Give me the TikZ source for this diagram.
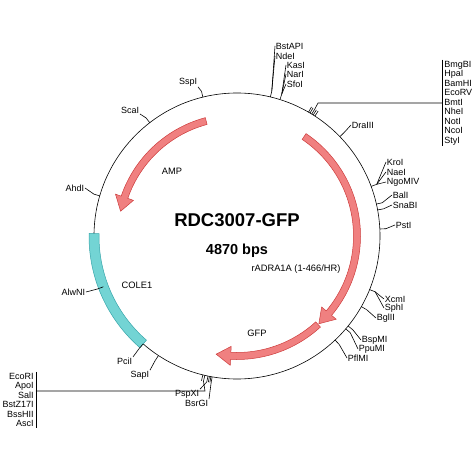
\documentclass[tikz,border=0pt]{standalone}
\usepackage{fontspec}
\setmainfont{Liberation Sans}
\definecolor{featred}{RGB}{240,128,128}
\definecolor{featedge}{RGB}{205,60,60}
\definecolor{orifill}{RGB}{115,212,212}
\definecolor{oriedge}{RGB}{55,165,170}
\begin{document}
\begin{tikzpicture}[x=1pt,y=1pt,line width=0.6pt,
    site/.style={font=\fontsize{9}{9.5}\selectfont,inner sep=0.5pt},
    siteR/.style={site,anchor=west},
    siteL/.style={site,anchor=east},
    grpR/.style={site,anchor=west,align=left,inner xsep=2pt,inner ysep=1pt},
    grpL/.style={site,anchor=east,align=right,inner xsep=2pt,inner ysep=1pt},
    featlbl/.style={font=\fontsize{9.3}{10}\selectfont,inner sep=0.5pt},
    feat/.style={fill=featred,draw=featedge,line width=0.5pt},
    ori/.style={fill=orifill,draw=oriedge,line width=0.5pt}]
  \useasboundingbox (-237,-238) rectangle (237,236);

  \draw (0,0) circle[radius=143];

  % features
  \filldraw[ori] (179:148) arc[start angle=179,end angle=229,radius=148]
    -- (229:138) arc[start angle=229,end angle=179,radius=138] -- cycle;
  \filldraw[feat] (105:122.5) arc[start angle=105,end angle=161,radius=122.5]
    -- (161:128.5) -- (168:119) -- (161:109.5) -- (161:115.5)
    arc[start angle=161,end angle=105,radius=115.5] -- cycle;
  \filldraw[feat] (56:123.5) arc[start angle=56,end angle=-40,radius=123.5]
    -- (-40:129.5) -- (-47:120) -- (-40:110.5) -- (-40:116.5)
    arc[start angle=-40,end angle=56,radius=116.5] -- cycle;
  \filldraw[feat] (-47.5:123.5) arc[start angle=-47.5,end angle=-93,radius=123.5]
    -- (-93:129.5) -- (-100:120) -- (-93:110.5) -- (-93:116.5)
    arc[start angle=-93,end angle=-47.5,radius=116.5] -- cycle;

  \node[font=\bfseries\fontsize{18.5}{20}\selectfont] (title) at (0,16) {RDC3007-GFP};
  \node[font=\bfseries\fontsize{14.5}{16}\selectfont] (size) at (0,-15) {4870 bps};
  \node[featlbl] (amp) at (-65,65) {AMP};
  \node[featlbl] (adra) at (59,-33) {rADRA1A (1-466/HR)};
  \node[featlbl] (gfp) at (20,-97) {GFP};
  \node[featlbl] (cole) at (-100,-49) {COLE1};

  % sites
  \foreach \n/\a in {SspI/103.8,ScaI/127.6,AhdI/163.7,AlwNI/200.8,PciI/229,
      SapI/236.7,PspXI/258.3,BsrGI/260,ecori/257,PflMI/-46.7,PpuMI/-40.5,
      BspMI/-39,BglII/-29.6,XcmI/-22,PstI/2.8,SnaBI/10.5,BalI/12.9,
      KroI/20.3,DraIII/44,mcs/58.5,KasI/72.5,BstAPI/76.5}
    \draw (\a:143) -- (\a:149) coordinate (t\n);
  \foreach \a in {57,57.8,59.3,60,256.2,258.9,259.5}
    \draw (\a:143) -- (\a:149);

  \node[siteR] (BstAPI) at (38,190) {BstAPI};
  \node[siteR] (NdeI) at (38,180) {NdeI};
  \node[siteR] (KasI) at (49,171) {KasI};
  \node[siteR] (NarI) at (49,162) {NarI};
  \node[siteR] (SfoI) at (49,152) {SfoI};
  \node[siteR] (DraIII) at (114,111) {DraIII};
  \node[siteR] (KroI) at (149,74) {KroI};
  \node[siteR] (NaeI) at (149,64) {NaeI};
  \node[siteR] (NgoMIV) at (149,54) {NgoMIV};
  \node[siteR] (BalI) at (155,41) {BalI};
  \node[siteR] (SnaBI) at (155,31) {SnaBI};
  \node[siteR] (PstI) at (158,11) {PstI};
  \node[siteR] (XcmI) at (147,-63) {XcmI};
  \node[siteR] (SphI) at (147,-72) {SphI};
  \node[siteR] (BglII) at (139,-82) {BglII};
  \node[siteR] (BspMI) at (124,-104) {BspMI};
  \node[siteR] (PpuMI) at (121,-113) {PpuMI};
  \node[siteR] (PflMI) at (110,-122) {PflMI};
  \node[siteL] (BsrGI) at (-28,-167) {BsrGI};
  \node[siteL] (PspXI) at (-37,-158) {PspXI};
  \node[siteL] (SapI) at (-87,-139) {SapI};
  \node[siteL] (PciI) at (-104,-125) {PciI};
  \node[siteL] (AlwNI) at (-151,-56) {AlwNI};
  \node[siteL] (AhdI) at (-152,48) {AhdI};
  \node[siteL] (ScaI) at (-97,126) {ScaI};
  \node[siteL] (SspI) at (-39,154) {SspI};

  \draw (tBstAPI) -- (BstAPI.west);
  \draw (tBstAPI) -- (NdeI.west);
  \draw (tKasI) -- (KasI.west);
  \draw (tKasI) -- (NarI.west);
  \draw (tKasI) -- (SfoI.west);
  \draw (tDraIII) -- (DraIII.west);
  \draw (tKroI) -- (KroI.west);
  \draw (tKroI) -- (NaeI.west);
  \draw (tKroI) -- (NgoMIV.west);
  \draw (tBalI) -- (BalI.west);
  \draw (tSnaBI) -- (SnaBI.west);
  \draw (tPstI) -- (PstI.west);
  \draw (tXcmI) -- (XcmI.west);
  \draw (tXcmI) -- (SphI.west);
  \draw (tBglII) -- (BglII.west);
  \draw (tBspMI) -- (BspMI.west);
  \draw (tPpuMI) -- (PpuMI.west);
  \draw (tPflMI) -- (PflMI.west);
  \draw (tBsrGI) -- (BsrGI.north east);
  \draw (tPspXI) -- (PspXI.north east);
  \draw (tSapI) -- (SapI.north east);
  \draw (tPciI) -- (PciI.north east);
  \draw (tAlwNI) -- (AlwNI.east);
  \draw (tAhdI) -- (AhdI.east);
  \draw (tScaI) -- (ScaI.south east);
  \draw (tSspI) -- (SspI.south east);

  \node[grpR] (mcs) at (205,133) {BmgBI\\HpaI\\BamHI\\EcoRV\\BmtI\\NheI\\NotI\\NcoI\\StyI};
  \draw (mcs.north west) -- (mcs.south west);
  \coordinate (mcsj) at (81,133);
  \draw (tmcs) -- (mcsj) -- (mcs.west);

  \node[grpL] (ecori) at (-201,-164) {EcoRI\\ApoI\\SalI\\BstZ17I\\BssHII\\AscI};
  \draw (ecori.north east) -- (ecori.south east);
  \coordinate (ecorij) at (-32,-155);
  \draw (tecori) -- (ecorij) -- (ecori.east |- ecorij);
\end{tikzpicture}
\end{document}
